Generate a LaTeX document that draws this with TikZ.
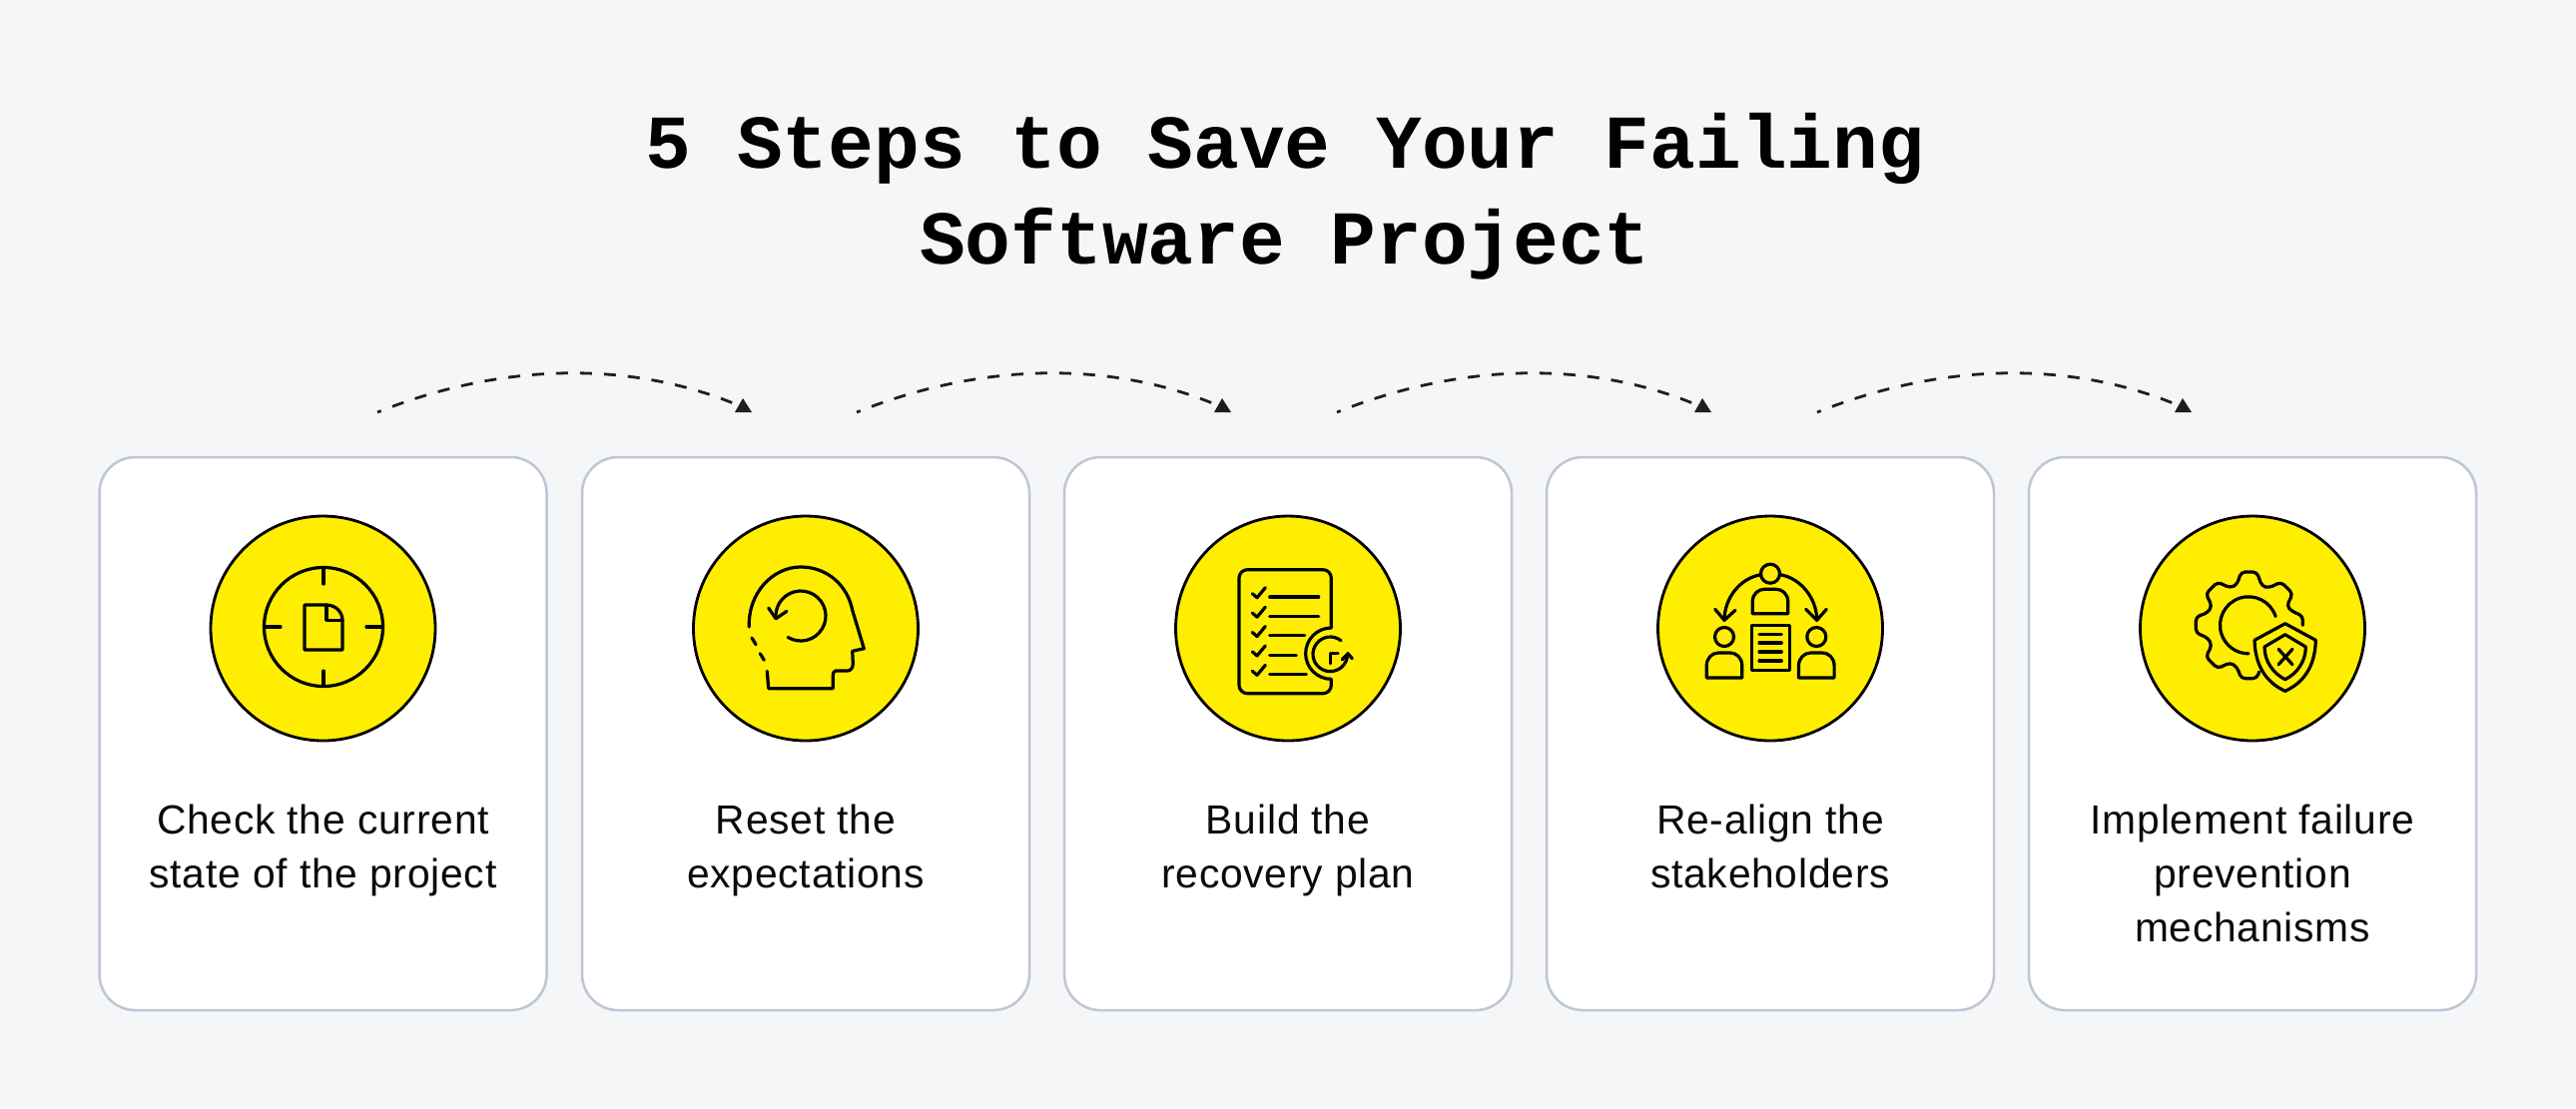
\documentclass[tikz,border=0pt]{standalone}
\usepackage{fontspec}
\setmainfont[LetterSpace=1.9]{Liberation Sans}
\newfontfamily\titlefont{Liberation Mono}
\usepackage{xcolor}
\usetikzlibrary{calc}
\definecolor{page}{HTML}{F5F6F8}
\definecolor{edge}{HTML}{BFC6D4}
\definecolor{sun}{HTML}{FFEE00}
\definecolor{ink}{HTML}{0A0A0A}
\definecolor{hop}{HTML}{1E1E1E}
\tikzset{
  card/.style={draw=edge, line width=1.25pt, fill=white, rounded corners=18pt, minimum width=224pt, minimum height=277pt, inner sep=0pt},
  disc/.style={circle, draw=black, fill=sun, line width=1.4pt, minimum size=112.5pt, inner sep=0pt},
  ic/.style={draw=black, line width=1.6pt, line cap=round, line join=round},
  lab/.style={text=ink, font=\fontsize{20.4}{26.9}\selectfont, align=center, inner sep=0pt},
  ttl/.style={text=black, font=\titlefont\bfseries\fontsize{38.1}{48}\selectfont, align=center, inner sep=0pt},
  hopline/.style={draw=hop, line width=1.4pt, dash pattern=on 6pt off 6pt, dash phase=4pt},
}
\begin{document}
\begin{tikzpicture}[x=0.5pt,y=-0.5pt]
  \fill[page] (0,0) rectangle (2580,1110);
  \node[ttl] (title) at (1287,197) {5 Steps to Save Your Failing\\Software Project};
  % cards with their circles and captions
  \foreach \i/\cx/\txt in {1/323.5/{Check the current\\state of the project},
      2/807/{Reset the\\expectations},
      3/1290/{Build the\\recovery plan},
      4/1773/{Re-align the\\stakeholders},
      5/2256/{Implement failure\\prevention\\mechanisms}} {
    \node[card] (card\i) at (\cx,735) {};
    \node[disc] (disc\i) at (\cx,629.5) {};
    \node[lab,anchor=north] (cap\i) at (\cx,805.5) {\txt};
  }
  % hops between the cards
  \foreach \i/\cx in {1/0,2/480,3/961,4/1442} {
    \coordinate (from\i) at (378+\cx,413);
    \coordinate (to\i) at (737+\cx,405);
    \draw[hopline] (from\i) .. controls ($(from\i)+(140,-56)$) and ($(to\i)+(-92,-38)$) .. (to\i);
    \fill[hop] ($(to\i)+(7,-6)$) -- ($(to\i)+(16,8)$) -- ($(to\i)+(-1,8)$) -- cycle;
  }
  % target with page
  \begin{scope}[shift={(324,629)}]
    \draw[ic] (0,-1) circle (59.5);
    \foreach \a/\b in {{0,-60}/{0,-44},{0,43}/{0,58},{-59,-1}/{-43,-1},{43,-1}/{59,-1}}
      \draw[ic] (\a) -- (\b);
    \draw[ic] (-19,-23) -- (3,-23) .. controls (12,-23) and (19,-16) .. (19,-7.7) -- (19,22) -- (-19,22) -- cycle;
    \draw[ic] (3,-23) -- (3,-7.7) -- (19,-7.7);
  \end{scope}
  % head
  \begin{scope}[shift={(807,629)}]
    \draw[ic] (-56.7,-1) .. controls (-58,-35) and (-33,-61) .. (-5,-61) .. controls (22,-61) and (42,-42) .. (46.7,-17.7)
      -- (58.3,20.7) -- (46.7,23.3) -- (47.3,35.7) .. controls (47.3,40) and (45,43) .. (41.7,43) -- (30,43)
      .. controls (28,43) and (27.3,45) .. (27.3,47.3) -- (27.3,60.7) -- (-37.3,60.7) -- (-38.7,43.3);
    \draw[ic] (-54,10) -- (-50,16.7);
    \draw[ic] (-45.7,25.7) -- (-41.7,32.3);
    \draw[ic] ([shift={(121:25)}]-5,-12) arc (121:-186:25);
    \draw[ic] (-37.3,-20) -- (-30,-9.3) -- (-19,-16.7);
  \end{scope}
  % checklist
  \begin{scope}[shift={(1290,629)}]
    \draw[ic] (43.3,0) -- (43.3,-50) arc (0:-90:8.3) -- (-40.7,-58.3) arc (-90:-180:8.3) -- (-49,57.4) arc (180:90:8.3)
      -- (35,65.7) arc (90:0:8.3) -- (43.3,51.3) arc (90:270:25.65);
    \foreach \y/\e in {0/30.7,19.4/30.7,38.8/16.7,58.2/8.3,77.6/18.3} {
      \draw[ic] (-35.7,-34.3+\y) -- (-31,-30.3+\y) -- (-22.7,-40.3+\y);
      \draw[ic] (-18.3,-31+\y) -- (\e,-31+\y);
    }
    \draw[ic] ([shift={(-52:17.3)}]42.3,26.3) arc (-52:-350:17.3);
    \draw[ic] (54.3,31.7) -- (60,25.7) -- (64.3,30.7);
    \draw[ic] (42.7,35.7) -- (42.7,25.7) -- (50,25.7);
  \end{scope}
  % stakeholders
  \begin{scope}[shift={(1773,629)}]
    \draw[ic] (0,-54.3) circle (9.5);
    \draw[ic] (-17.8,-14.3) -- (-17.8,-26) .. controls (-17.8,-34) and (-12,-38.7) .. (-6,-38.7) -- (6,-38.7)
      .. controls (12,-38.7) and (17.8,-34) .. (17.8,-26) -- (17.8,-14.3) -- cycle;
    \foreach \px in {-46,46.3} {
      \draw[ic] (\px,9) circle (9.5);
      \draw[ic] (\px-17.8,50) -- (\px-17.8,38) .. controls (\px-17.8,30) and (\px-12,25) .. (\px-6,25) -- (\px+6,25)
        .. controls (\px+12,25) and (\px+17.8,30) .. (\px+17.8,38) -- (\px+17.8,50) -- cycle;
    }
    \draw[ic] (-18.7,-2.7) rectangle (19.7,42.3);
    \foreach \y in {6.3,15,24,33}
      \draw[ic] (-11,\y) -- (11.3,\y);
    \draw[ic] (-9.3,-53.3) .. controls (-30,-50) and (-46,-30) .. (-46,-7.7);
    \draw[ic] (10,-53.3) .. controls (30,-50) and (46.7,-30) .. (46.7,-7.7);
    \draw[ic] (-55.3,-18.7) -- (-46,-7.7) -- (-35,-17.7);
    \draw[ic] (35.7,-18.7) -- (46.7,-7.7) -- (56.3,-18.7);
  \end{scope}
  % gear and shield
  \begin{scope}[shift={(2256,629)}]
    \draw[ic,rounded corners=2pt] (50.3,-2.7) -- (50.3,-12) -- (39.3,-16.7) -- (34.3,-22) -- (40.3,-34.3) -- (28.7,-46)
      -- (16,-40) -- (9.3,-42) -- (4.3,-56) -- (-11.3,-56) -- (-15.7,-43.3) -- (-22.3,-40) -- (-35,-46) -- (-46.7,-34.3)
      -- (-40.7,-22) -- (-44.7,-15.3) -- (-56.7,-11) -- (-56.7,5) -- (-44.7,10) -- (-40.7,17.3) -- (-46.7,29) -- (-35,40.7)
      -- (-22.3,34.7) -- (-15.7,39) -- (-11.3,50.7) -- (4.3,50.7) -- (6.7,44);
    \draw[ic] ([shift={(-18:28.5)}]-4,-2.7) arc (-18:-270:28.5);
    \draw[ic] (32.7,-4.3) -- (63.3,12.3) .. controls (62.7,40.7) and (49.3,55.7) .. (32.7,63.3)
      .. controls (16,55.7) and (2.7,40.7) .. (2,12.3) -- cycle;
    \draw[ic] (32.7,6.7) -- (53.3,19) .. controls (53.3,34) and (44.3,45.7) .. (32.7,51.7)
      .. controls (21,45.7) and (12,34) .. (12,19) -- cycle;
    \draw[ic] (26,21.3) -- (40,36.7);
    \draw[ic] (26,36.7) -- (40,21.3);
  \end{scope}
\end{tikzpicture}
\end{document}
